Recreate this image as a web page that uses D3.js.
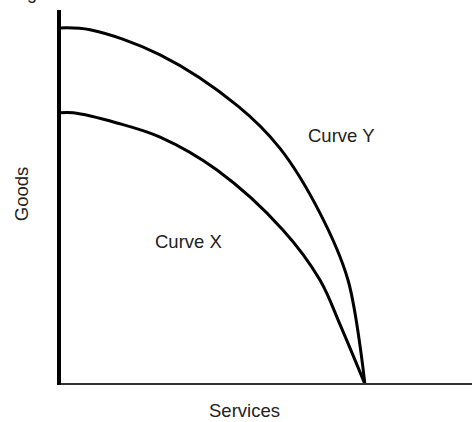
<!DOCTYPE html>
<html>
<head>
<meta charset="utf-8">
<script src="https://cdn.jsdelivr.net/npm/d3@7"></script>
<style>
  html, body { margin: 0; padding: 0; background: #fff; }
  svg { display: block; }
  text { font-family: "Liberation Sans", Arial, sans-serif; fill: #222; }
</style>
</head>
<body>
<div id="chart"></div>
<script>
// services (x) vs goods (y), 0..100 on both axes
const curveYServices = [0, 7.3, 24.3, 43.2, 53.4, 63.1, 69.9, 74];
const curveYGoods    = [95.2, 94.7, 88, 74.3, 63, 45.7, 27.8, 0];
const curveXServices = [0, 3.2, 13.8, 24.3, 38.1, 54.1, 63.1, 68, 74];
const curveXGoods    = [72.5, 72.5, 69.8, 66, 57.2, 41.2, 27.8, 15.8, 0];
const curveLabels = ["Curve Y", "Curve X"];
const xLabel = "Services";
const yLabel = "Goods";

const width = 472, height = 422;
const x = d3.scaleLinear().domain([0, 100]).range([60, 472]);
const y = d3.scaleLinear().domain([0, 100]).range([384, 10]);

const svg = d3.select("#chart").append("svg")
    .attr("width", width)
    .attr("height", height);

// cut-off title at the very top
svg.append("text").attr("x", 12).attr("y", -1).attr("font-size", 18).text("Figure");

const line = d3.line()
    .x(d => x(d[0]))
    .y(d => y(d[1]))
    .curve(d3.curveCatmullRom.alpha(0.5));

const curves = [
  d3.zip(curveYServices, curveYGoods),
  d3.zip(curveXServices, curveXGoods)
];

svg.selectAll("path.curve")
    .data(curves)
    .join("path")
    .attr("class", "curve")
    .attr("d", line)
    .attr("fill", "none")
    .attr("stroke", "#000")
    .attr("stroke-width", 3);

// axes
svg.append("line")
    .attr("x1", x(0)).attr("x2", x(100))
    .attr("y1", y(0)).attr("y2", y(0))
    .attr("stroke", "#333").attr("stroke-width", 2);
svg.append("line")
    .attr("x1", x(0) - 1).attr("x2", x(0) - 1)
    .attr("y1", y(100)).attr("y2", y(0) + 1)
    .attr("stroke", "#000").attr("stroke-width", 4);

svg.append("text").attr("x", 308).attr("y", 142).attr("font-size", 18.5).text(curveLabels[0]);
svg.append("text").attr("x", 155).attr("y", 248).attr("font-size", 18.5).text(curveLabels[1]);

svg.append("text").attr("x", 209).attr("y", 417).attr("font-size", 18.5).text(xLabel);
svg.append("text")
    .attr("transform", "translate(28,194) rotate(-90)")
    .attr("text-anchor", "middle")
    .attr("font-size", 18.5)
    .text(yLabel);
</script>
</body>
</html>
